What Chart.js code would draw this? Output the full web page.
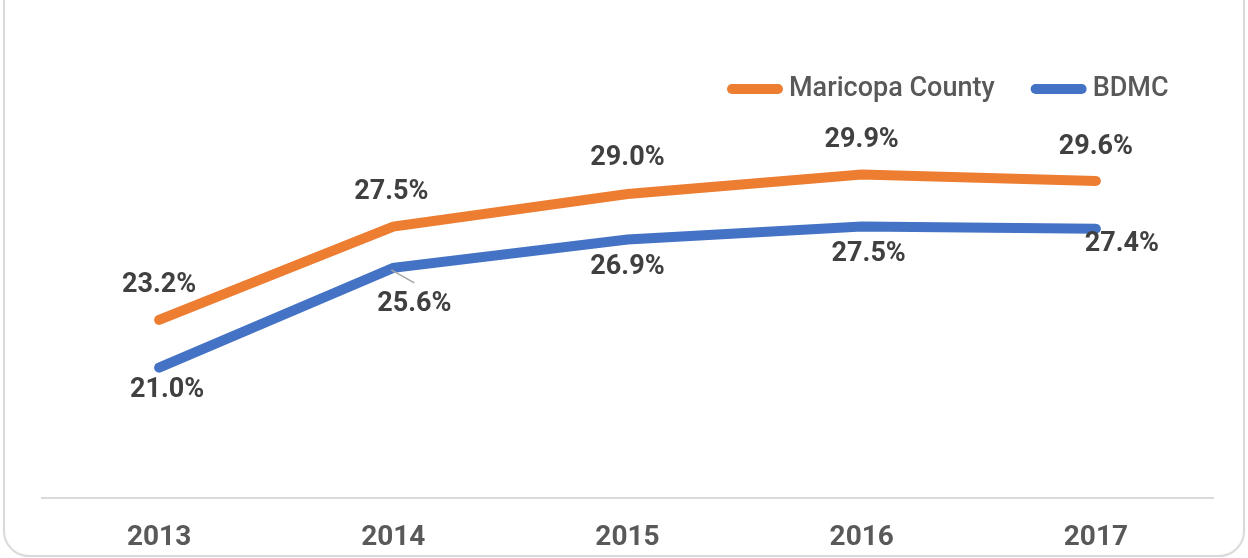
<!DOCTYPE html>
<html>
<head>
<meta charset="utf-8">
<script src="https://cdn.jsdelivr.net/npm/chart.js@4.4.1/dist/chart.umd.min.js"></script>
<style>
  html, body { margin: 0; padding: 0; background: #fff; overflow: hidden; }
  #frame {
    position: absolute; left: 3px; top: -30px; width: 1242px; height: 587px;
    box-sizing: border-box; border: 2px solid #d9d9d9; border-radius: 26px;
  }
  #wrap { position: absolute; left: 0; top: 0; width: 1248px; height: 558px; }
</style>
</head>
<body>
<div id="frame"></div>
<div id="wrap"><canvas id="lineChart"></canvas></div>
<script>
// datos del gráfico
const years = ["2013", "2014", "2015", "2016", "2017"];
const maricopa = [23.2, 27.5, 29.0, 29.9, 29.6];
const bdmc = [21.0, 25.6, 26.9, 27.5, 27.4];

// etiquetas de valor: encima para la primera serie, debajo para la segunda
const valueLabels = {
    id: "valueLabels",
    afterDatasetsDraw(chart) {
        const ctx = chart.ctx;
        // desplazamientos [dx, dy] por punto
        const shifts = [
            [[0, -35], [-2, -34], [0, -36], [0, -34], [0, -34]],
            [[8, 23], [21, 36], [0, 28], [7, 28], [26, 16]],
        ];
        ctx.save();
        ctx.font = "bold 27px Roboto";
        ctx.fillStyle = "#404040";
        ctx.textAlign = "center";
        ctx.textBaseline = "middle";
        chart.data.datasets.forEach((ds, di) => {
            const meta = chart.getDatasetMeta(di);
            meta.data.forEach((pt, i) => {
                const [dx, dy] = shifts[di][i];
                if (di === 1 && i === 1) {
                    // línea guía hacia la etiqueta desplazada
                    ctx.strokeStyle = "#a6a6a6";
                    ctx.lineWidth = 1.5;
                    ctx.beginPath();
                    ctx.moveTo(pt.x - 2, pt.y + 2);
                    ctx.lineTo(pt.x + 21, pt.y + 15);
                    ctx.stroke();
                }
                ctx.fillText(ds.data[i].toFixed(1) + "%", pt.x + dx, pt.y + dy);
            });
        });
        ctx.restore();
    },
};

// leyenda dibujada arriba a la derecha
const topLegend = {
    id: "topLegend",
    afterDraw(chart) {
        const ctx = chart.ctx;
        let x = 727;
        const y = 89;
        ctx.save();
        ctx.font = "500 27px Roboto";
        ctx.textBaseline = "middle";
        ctx.textAlign = "left";
        chart.data.datasets.forEach((ds) => {
            ctx.strokeStyle = ds.borderColor;
            ctx.lineWidth = 10;
            ctx.lineCap = "round";
            ctx.beginPath();
            ctx.moveTo(x + 5, y);
            ctx.lineTo(x + 51, y);
            ctx.stroke();
            x += 62;
            ctx.fillStyle = "#595959";
            ctx.fillText(ds.label, x, y);
            x += ctx.measureText(ds.label).width + 36;
        });
        ctx.restore();
    },
};

const ctx = document.getElementById("lineChart").getContext("2d");
new Chart(ctx, {
    type: "line",
    data: {
        labels: years,
        datasets: [
            {
                label: "Maricopa County",
                data: maricopa,
                borderColor: "#ED7D31",
                backgroundColor: "#ED7D31",
                borderWidth: 10,
                borderCapStyle: "round",
                pointRadius: 0,
                tension: 0,
            },
            {
                label: "BDMC",
                data: bdmc,
                borderColor: "#4472C4",
                backgroundColor: "#4472C4",
                borderWidth: 10,
                borderCapStyle: "round",
                pointRadius: 0,
                tension: 0,
            },
        ],
    },
    options: {
        responsive: true,
        maintainAspectRatio: false,
        animation: false,
        layout: { padding: { left: 42, right: 35, top: 42, bottom: 0 } },
        plugins: {
            tooltip: { enabled: false },
            legend: { display: false },
        },
        scales: {
            x: {
                offset: true,
                grid: { display: false },
                border: { display: true, color: "#d9d9d9", width: 2 },
                ticks: {
                    padding: 15,
                    color: "#595959",
                    font: { family: "Roboto", size: 28, weight: "bold" },
                },
                afterFit: (scale) => { scale.height = 60; },
            },
            y: {
                display: false,
                min: 15,
                max: 36,
            },
        },
    },
    plugins: [valueLabels, topLegend],
});
</script>
</body>
</html>
